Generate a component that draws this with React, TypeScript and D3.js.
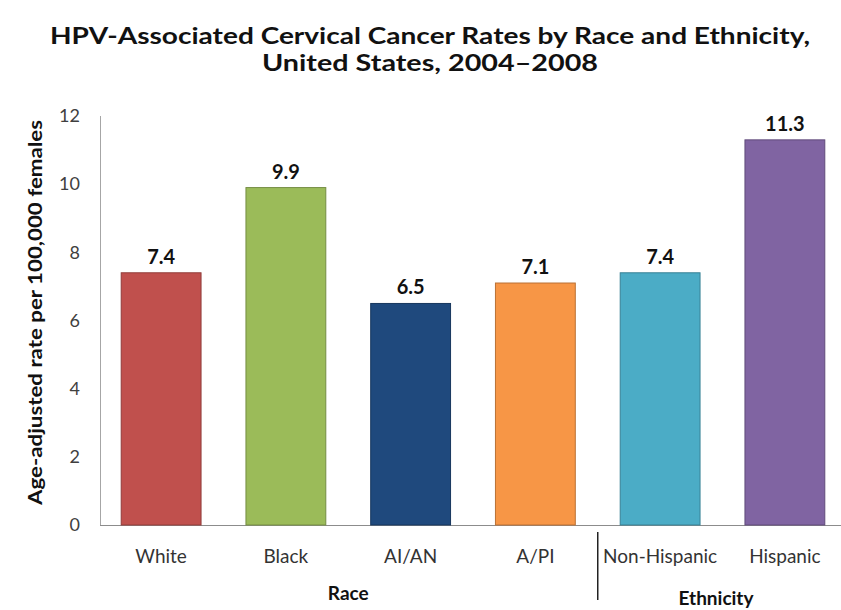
import React from "react";
import * as d3 from "d3";

const categories = ["White", "Black", "AI/AN", "A/PI", "Non-Hispanic", "Hispanic"];
const values = [7.4, 9.9, 6.5, 7.1, 7.4, 11.3];
const labels = ["7.4", "9.9", "6.5", "7.1", "7.4", "11.3"];
const colors = ["#C0504D", "#9BBB59", "#1F497D", "#F79646", "#4BACC6", "#8064A2"];
const yTicks = [0, 2, 4, 6, 8, 10, 12];
const groups = [
  { name: "Race", from: 0, to: 3 },
  { name: "Ethnicity", from: 4, to: 5 },
];

export default function App() {
  const W = 841, H = 610;
  const x = d3.scaleBand<string>().domain(categories).range([100, 846]).paddingInner(0.36).paddingOuter(0.17);
  const y = d3.scaleLinear().domain([0, 12]).range([525, 116]);
  const font = "Lato, 'Open Sans', sans-serif";
  const sepX = (x(categories[3])! + x.bandwidth() + x(categories[4])!) / 2;
  return (
    <svg width={W} height={H} style={{ position: "absolute", left: 0, top: 0, background: "#fff" }}>
      <g fontFamily={font} fontWeight="bold" fontSize={22} fill="#111" textAnchor="middle">
        <text x={430} y={44} textLength={760} lengthAdjust="spacingAndGlyphs">
          HPV-Associated Cervical Cancer Rates by Race and Ethnicity,
        </text>
        <text x={430} y={71} textLength={336} lengthAdjust="spacingAndGlyphs">
          United States, 2004–2008
        </text>
      </g>
      <line x1={100.5} x2={100.5} y1={116} y2={525} stroke="#a6a6a6" />
      <line x1={100} x2={846} y1={525.5} y2={525.5} stroke="#8c8c8c" />
      {yTicks.map((t) => (
        <text key={t} x={80} y={y(t)} dy="0.35em" textAnchor="end" fontFamily={font} fontSize={18} fill="#404040">
          {t}
        </text>
      ))}
      <text
        transform={`translate(42,${(116 + 525) / 2 - 8}) rotate(-90)`}
        textAnchor="middle"
        fontFamily={font}
        fontWeight="bold"
        fontSize={18}
        fill="#111"
        textLength={385}
        lengthAdjust="spacingAndGlyphs"
      >
        Age-adjusted rate per 100,000 females
      </text>
      {categories.map((c, i) => (
        <g key={c}>
          <rect
            x={x(c)!}
            y={y(values[i])}
            width={x.bandwidth()}
            height={y(0) - y(values[i])}
            fill={colors[i]}
            stroke={d3.color(colors[i])!.darker(0.8).toString()}
            strokeWidth={1}
          />
          <text
            x={x(c)! + x.bandwidth() / 2}
            y={y(values[i]) - 9}
            textAnchor="middle"
            fontFamily={font}
            fontWeight="bold"
            fontSize={20}
            fill="#111"
          >
            {labels[i]}
          </text>
          <text
            x={x(c)! + x.bandwidth() / 2}
            y={563}
            textAnchor="middle"
            fontFamily={font}
            fontSize={19}
            fill="#333"
          >
            {c}
          </text>
        </g>
      ))}
      <line x1={sepX} x2={sepX} y1={532} y2={600} stroke="#222" strokeWidth={1.5} />
      {groups.map((g, k) => {
        const a = x(categories[g.from])!;
        const b = x(categories[g.to])! + x.bandwidth();
        return (
          <text
            key={g.name}
            x={k === 0 ? (a + b) / 2 : 716}
            y={k === 0 ? 600 : 605}
            textAnchor="middle"
            fontFamily={font}
            fontWeight="bold"
            fontSize={19}
            fill="#111"
          >
            {g.name}
          </text>
        );
      })}
    </svg>
  );
}
